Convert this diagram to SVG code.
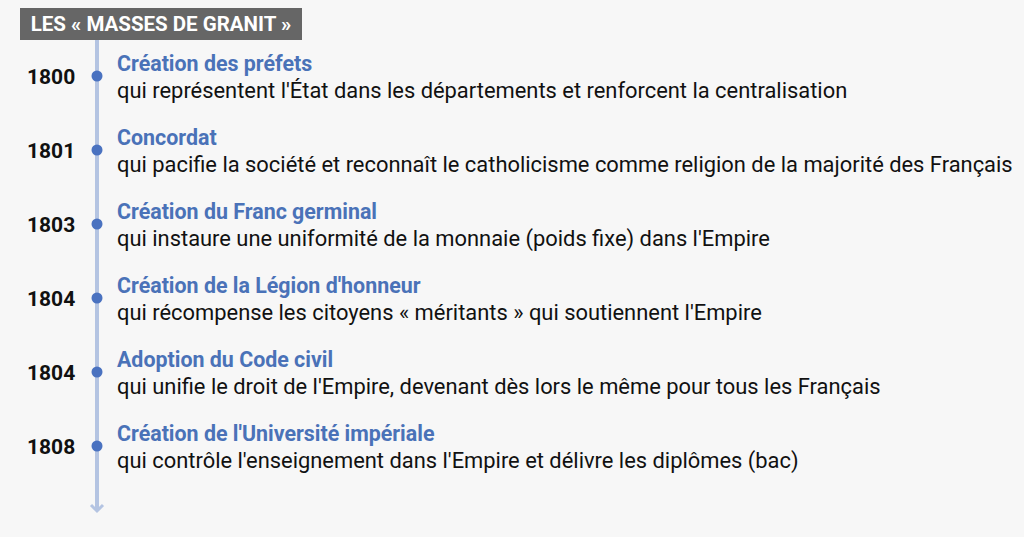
<svg xmlns="http://www.w3.org/2000/svg" width="1024" height="537" viewBox="0 0 1024 537">
<style>
.yr{font-family:Roboto,"Liberation Sans",sans-serif;font-weight:700;font-size:21px;fill:#111111}
.t{font-family:Roboto,"Liberation Sans",sans-serif;font-weight:700;font-size:21.4px;fill:#4a72b8}
.d{font-family:Roboto,"Liberation Sans",sans-serif;font-size:21.9px;fill:#111111}
.dot{fill:#4a72c0}
</style>
<rect width="1024" height="537" fill="#f7f7f7"/>
<g id="connectors">
<line x1="97" y1="40" x2="97" y2="510" stroke="#b4c4e2" stroke-width="4"/>
<polyline points="91,505 97,511 103,505" fill="none" stroke="#b4c4e2" stroke-width="3"/>
</g>
<g id="header">
<rect x="20" y="8" width="282" height="32" fill="#666666"/>
<text x="161" y="31" text-anchor="middle" font-family="Roboto,'Liberation Sans',sans-serif" font-weight="700" font-size="20.5" fill="#ffffff">LES « MASSES DE GRANIT »</text>
</g>
<g id="e1800">
<text class="yr" x="27" y="84">1800</text>
<circle class="dot" cx="97" cy="76" r="5.5"/>
<text class="t" x="117" y="71">Création des préfets</text>
<text class="d" x="117" y="98">qui représentent l'État dans les départements et renforcent la centralisation</text>
</g>
<g id="e1801">
<text class="yr" x="27" y="158">1801</text>
<circle class="dot" cx="97" cy="150" r="5.5"/>
<text class="t" x="117" y="145">Concordat</text>
<text class="d" x="117" y="172">qui pacifie la société et reconnaît le catholicisme comme religion de la majorité des Français</text>
</g>
<g id="e1803">
<text class="yr" x="27" y="232">1803</text>
<circle class="dot" cx="97" cy="224" r="5.5"/>
<text class="t" x="117" y="219">Création du Franc germinal</text>
<text class="d" x="117" y="246">qui instaure une uniformité de la monnaie (poids fixe) dans l'Empire</text>
</g>
<g id="e1804a">
<text class="yr" x="27" y="306">1804</text>
<circle class="dot" cx="97" cy="298" r="5.5"/>
<text class="t" x="117" y="293">Création de la Légion d'honneur</text>
<text class="d" x="117" y="320">qui récompense les citoyens « méritants » qui soutiennent l'Empire</text>
</g>
<g id="e1804b">
<text class="yr" x="27" y="380">1804</text>
<circle class="dot" cx="97" cy="372" r="5.5"/>
<text class="t" x="117" y="367">Adoption du Code civil</text>
<text class="d" x="117" y="394">qui unifie le droit de l'Empire, devenant dès lors le même pour tous les Français</text>
</g>
<g id="e1808">
<text class="yr" x="27" y="454">1808</text>
<circle class="dot" cx="97" cy="446" r="5.5"/>
<text class="t" x="117" y="441">Création de l'Université impériale</text>
<text class="d" x="117" y="468">qui contrôle l'enseignement dans l'Empire et délivre les diplômes (bac)</text>
</g>
</svg>
